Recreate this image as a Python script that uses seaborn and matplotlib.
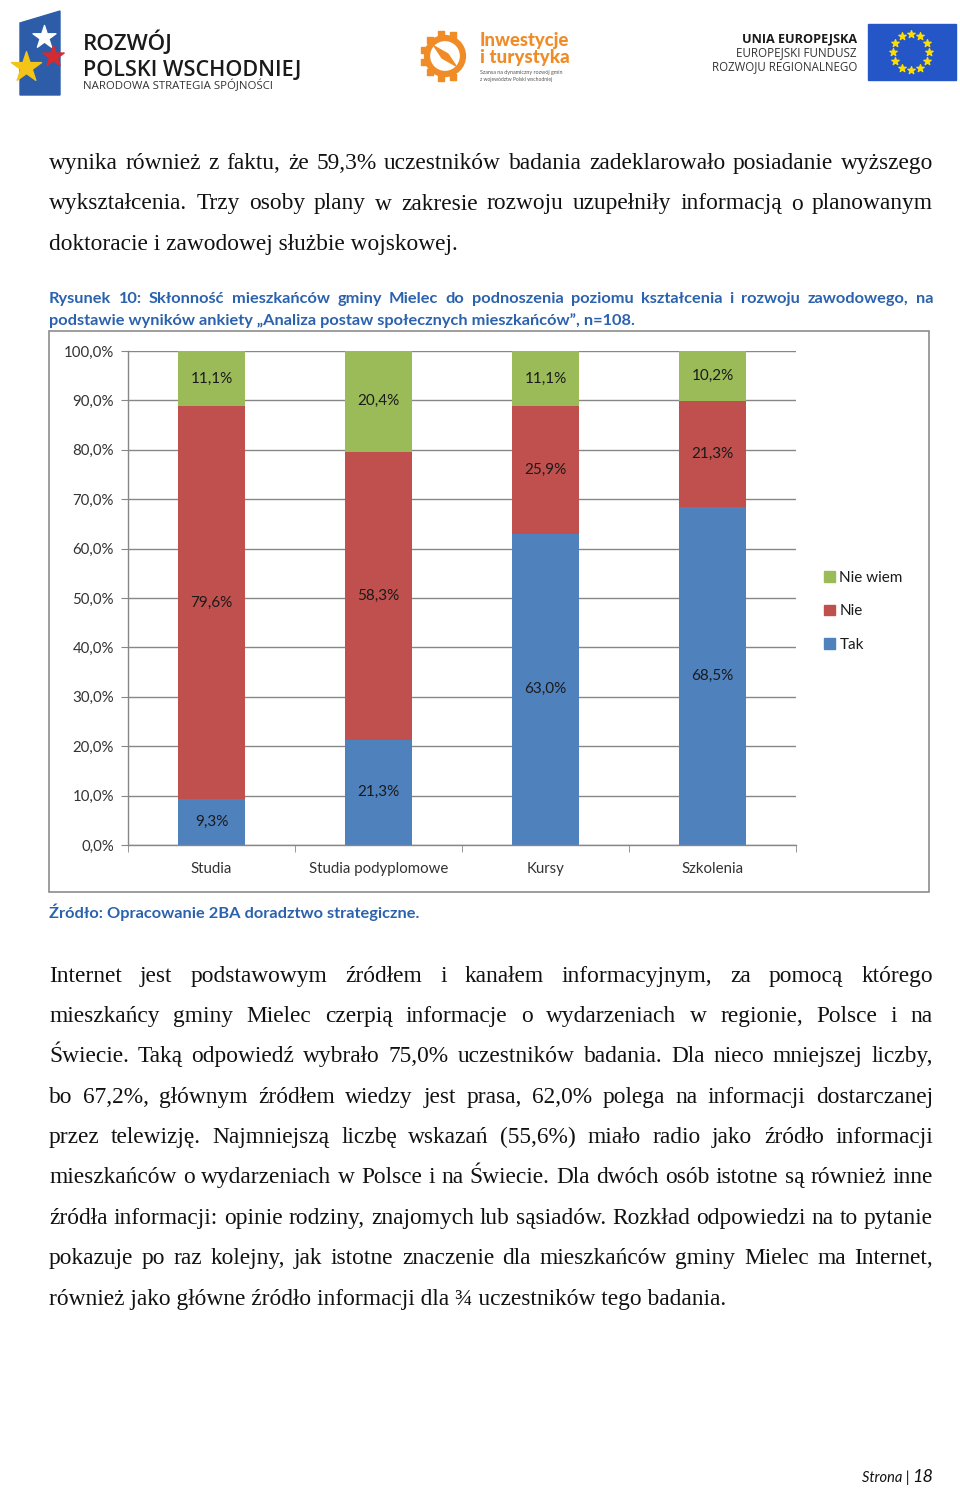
import numpy as np
import pandas as pd
import matplotlib
matplotlib.use("Agg")
import matplotlib.pyplot as plt
from matplotlib.patches import Patch, Rectangle, Polygon, Circle
import seaborn as sns

# --- chart data (Rysunek 10) ---
categories = ["Studia", "Studia podyplomowe", "Kursy", "Szkolenia"]
tak = [9.3, 21.3, 63.0, 68.5]
nie = [79.6, 58.3, 25.9, 21.3]
nie_wiem = [11.1, 20.4, 11.1, 10.2]
series_names = ["Nie wiem", "Nie", "Tak"]
y_ticks = [0, 10, 20, 30, 40, 50, 60, 70, 80, 90, 100]

# --- page text ---
para1 = [
    "wynika również z faktu, że 59,3% uczestników badania zadeklarowało posiadanie wyższego",
    "wykształcenia. Trzy osoby plany w zakresie rozwoju uzupełniły informacją o planowanym",
    "doktoracie i zawodowej służbie wojskowej.",
]
para2 = [
    "Internet jest podstawowym źródłem i kanałem informacyjnym, za pomocą którego",
    "mieszkańcy gminy Mielec czerpią informacje o wydarzeniach w regionie, Polsce i na",
    "Świecie. Taką odpowiedź wybrało 75,0% uczestników badania. Dla nieco mniejszej liczby,",
    "bo 67,2%, głównym źródłem wiedzy jest prasa, 62,0% polega na informacji dostarczanej",
    "przez telewizję. Najmniejszą liczbę wskazań (55,6%) miało radio jako źródło informacji",
    "mieszkańców o wydarzeniach w Polsce i na Świecie. Dla dwóch osób istotne są również inne",
    "źródła informacji: opinie rodziny, znajomych lub sąsiadów. Rozkład odpowiedzi na to pytanie",
    "pokazuje po raz kolejny, jak istotne znaczenie dla mieszkańców gminy Mielec ma Internet,",
    "również jako główne źródło informacji dla ¾ uczestników tego badania.",
]
caption = [
    "Rysunek 10: Skłonność mieszkańców gminy Mielec do podnoszenia poziomu kształcenia i rozwoju zawodowego, na",
    "podstawie wyników ankiety „Analiza postaw społecznych mieszkańców”, n=108.",
]
source = "Źródło: Opracowanie 2BA doradztwo strategiczne."

BLUE, RED, GREEN = "#4F81BD", "#C0504D", "#9BBB59"
GRID = "#878787"
CAP_BLUE = "#2B62AE"
ORANGE = "#F08C28"

sns.set_style("white")
plt.rcParams["font.family"] = ["Lato", "DejaVu Sans"]

W, H = 960, 1488
X0, X1 = 49, 933
fig = plt.figure(figsize=(W / 100, H / 100), dpi=100)
page = fig.add_axes([0, 0, 1, 1])
page.set_xlim(0, W)
page.set_ylim(H, 0)
page.axis("off")
renderer = fig.canvas.get_renderer()


def text_width(t):
    return t.get_window_extent(renderer).width


def fit_text(x, y, s, width, size=12, ha="left", **kw):
    t = page.text(x, y, s, fontsize=size, ha=ha, va="baseline", **kw)
    t.set_fontsize(size * width / text_width(t))
    return t


def fitting_size(line, size, **kw):
    # largest size at which the line fits with normal (0.25 em) spaces
    words = line.split()
    t = page.text(0, -100, "".join(words), fontsize=size, **kw)
    w = text_width(t)
    t.remove()
    space = 0.25 * size * 100 / 72
    return size * (X1 - X0) / (w + (len(words) - 1) * space)


def justify_line(line, y, size, **kw):
    words = line.split()
    texts = [page.text(0, y, w, fontsize=size, va="baseline", **kw) for w in words]
    widths = [text_width(t) for t in texts]
    gap = (X1 - X0 - sum(widths)) / (len(words) - 1)
    x = X0
    for t, w in zip(texts, widths):
        t.set_x(x)
        x += w + gap


def paragraph(lines, baselines, size, **kw):
    for i, (line, y) in enumerate(zip(lines, baselines)):
        if i == len(lines) - 1:
            page.text(X0, y, line, fontsize=size, va="baseline", **kw)
        else:
            justify_line(line, y, size, **kw)


# --- header logos ---
page.add_patch(Polygon([(20, 23), (60, 11), (60, 95), (20, 95)], closed=True, color="#2D5DA8"))
page.scatter([44], [37], marker="*", s=300, color="white", zorder=3)
page.scatter([53], [56], marker="*", s=260, color="#D42A30", zorder=3)
page.scatter([26], [67], marker="*", s=520, color="#F4C516", zorder=3)
fit_text(83, 50, "ROZWÓJ", 90, family="Open Sans", weight="semibold", color="#1a1a1a")
fit_text(83, 76, "POLSKI WSCHODNIEJ", 219, family="Open Sans", weight="semibold", color="#1a1a1a")
fit_text(83, 89, "NARODOWA STRATEGIA SPÓJNOŚCI", 189, family="Open Sans", color="#333333")

page.add_patch(Circle((445, 56), 18, fill=False, edgecolor=ORANGE, lw=4.5))
for ang in np.linspace(70, 290, 8):
    a = np.deg2rad(ang)
    page.scatter([445 + 22 * np.cos(a)], [56 - 22 * np.sin(a)], marker="s", s=20,
                 color=ORANGE, zorder=3)
page.add_patch(Polygon([(434, 46), (448, 54), (456, 66), (442, 58)], closed=True, color=ORANGE))
fit_text(480, 46, "Inwestycje", 90, weight="black", color=ORANGE)
fit_text(480, 63, "i turystyka", 90, weight="black", color=ORANGE)
fit_text(480, 74, "Szansa na dynamiczny rozwój gmin", 82, color="#555555")
fit_text(480, 81, "z województw Polski wschodniej", 72, color="#555555")

fit_text(857, 42, "UNIA EUROPEJSKA", 114, ha="right", weight="bold", family="Open Sans", color="#1a1a1a")
fit_text(857, 56, "EUROPEJSKI FUNDUSZ", 120, ha="right", family="Open Sans", color="#333333")
fit_text(857, 70, "ROZWOJU REGIONALNEGO", 145, ha="right", family="Open Sans", color="#333333")
page.add_patch(Rectangle((868, 24), 88, 56, color="#2456C8"))
for ang in np.arange(0, 360, 30):
    a = np.deg2rad(ang)
    page.scatter([911 + 18 * np.cos(a)], [52 - 18 * np.sin(a)], marker="*", s=30,
                 color="#FFDD00", zorder=3)

# --- body text ---
serif = dict(family="Liberation Serif", color="#111111")
probe = fit_text(0, -100, para1[-1], 408, **serif)
body_size = probe.get_fontsize()
probe.remove()
for line in para1[:-1] + para2[:-1]:
    body_size = min(body_size, fitting_size(line, body_size, **serif))
paragraph(para1, [169, 209.5, 250], body_size, **serif)
paragraph(para2, [982, 1022, 1062, 1103, 1143, 1183, 1224, 1264, 1305], body_size, **serif)

# --- caption and source ---
cap2 = fit_text(X0, 325, caption[1], 585, weight="bold", color=CAP_BLUE)
cap_size = min(cap2.get_fontsize(), fitting_size(caption[0], cap2.get_fontsize(), weight="bold"))
cap2.set_fontsize(cap_size)
justify_line(caption[0], 303, cap_size, weight="bold", color=CAP_BLUE)
page.text(X0, 918, source, fontsize=cap_size, va="baseline", weight="bold", color=CAP_BLUE)

# chart frame
page.add_patch(Rectangle((49, 331), 880, 561, fill=False, edgecolor="#8c8c8c", lw=1.2))

# footer
page.text(933, 1482, "18", fontsize=13, style="italic", ha="right", va="baseline", color="#111111")
page.text(909, 1482, "Strona |", fontsize=10.5, style="italic", ha="right", va="baseline", color="#111111")

# --- the chart ---
ax = fig.add_axes([128 / W, 1 - 845 / H, (796 - 128) / W, (845 - 351) / H])
df = pd.DataFrame({"kategoria": categories, "tak": tak, "nie": nie, "nie_wiem": nie_wiem})
df["tak_nie"] = df["tak"] + df["nie"]
df["razem"] = df["tak_nie"] + df["nie_wiem"]

# stacked bars drawn back to front
for col, colr in [("razem", GREEN), ("tak_nie", RED), ("tak", BLUE)]:
    sns.barplot(data=df, x="kategoria", y=col, color=colr, saturation=1, width=0.4,
                linewidth=0, ax=ax, zorder=2)

# value labels in the middle of each segment
for i, row in df.iterrows():
    for lo, val in [(0, row["tak"]), (row["tak"], row["nie"]), (row["tak_nie"], row["nie_wiem"])]:
        ax.text(i, lo + val / 2, f"{val:.1f}%".replace(".", ","), ha="center", va="center",
                fontsize=11, color="#1a1a1a", zorder=4)

ax.set_xlim(-0.5, len(categories) - 0.5)
ax.set_ylim(0, 100)
ax.set_yticks(y_ticks)
ax.set_yticklabels([f"{v:.1f}%".replace(".", ",") for v in y_ticks])
ax.set_xticks(range(len(categories)))
ax.set_xticklabels(categories)
ax.set_xticks(np.arange(-0.5, len(categories)), minor=True)
ax.set_xlabel("")
ax.set_ylabel("")
ax.yaxis.grid(True, color=GRID, lw=1)
ax.set_axisbelow(True)
for side in ["top", "right"]:
    ax.spines[side].set_visible(False)
for side in ["left", "bottom"]:
    ax.spines[side].set_color(GRID)
    ax.spines[side].set_linewidth(1)
ax.tick_params(axis="y", direction="out", length=5, color=GRID, pad=5, labelsize=10.8,
               labelcolor="#333333", left=True)
ax.tick_params(axis="x", which="major", length=0, pad=12, labelsize=10.8, labelcolor="#333333")
ax.tick_params(axis="x", which="minor", direction="out", length=5, color=GRID, bottom=True)

handles = [Patch(color=GREEN), Patch(color=RED), Patch(color=BLUE)]
ax.legend(handles, series_names, loc="upper left", bbox_to_anchor=(824 / W, 1 - 571 / H),
          bbox_transform=fig.transFigure, frameon=False, fontsize=11, handlelength=0.7,
          handleheight=0.7, handletextpad=0.3, labelspacing=1.27, borderpad=0, borderaxespad=0,
          labelcolor="#1a1a1a")

fig.savefig("out.png", dpi=100)
